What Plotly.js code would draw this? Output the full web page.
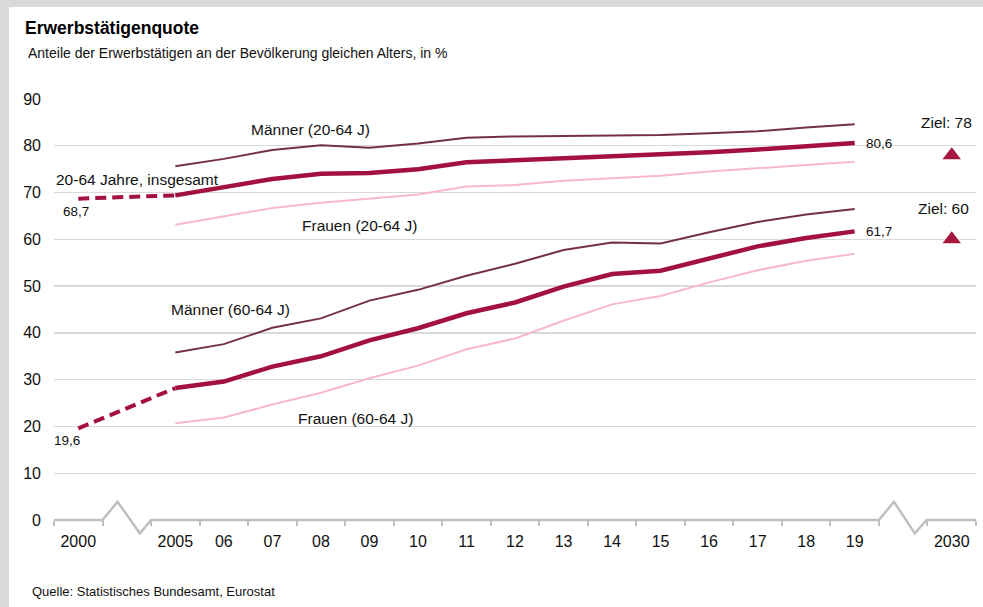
<!DOCTYPE html>
<html>
<head>
<meta charset="utf-8">
<script src="https://cdn.plot.ly/plotly-3.0.1.min.js"></script>
<style>
  html, body { margin: 0; padding: 0; background: #ffffff; overflow: hidden; }
  #wrap { width: 974px; height: 600px; border-top: 7px solid #d9d9d9; border-left: 9px solid #d9d9d9; }
  #chart { width: 974px; height: 600px; }
</style>
</head>
<body>
<div id="wrap"><div id="chart"></div></div>
<script>
// ---- Data ----
const xCategories = ['2000', '', '2005', '06', '07', '08', '09', '10', '11', '12', '13', '14', '15', '16', '17', '18', '19', '', '2030'];
const years = [2005, 2006, 2007, 2008, 2009, 2010, 2011, 2012, 2013, 2014, 2015, 2016, 2017, 2018, 2019];

const total2064_2000 = 68.7;
const total2064 = [69.4, 71.1, 72.9, 74.0, 74.2, 75.0, 76.5, 76.9, 77.3, 77.7, 78.0, 78.6, 79.2, 79.9, 80.6];
const men2064   = [75.6, 77.2, 79.1, 80.1, 79.6, 80.5, 81.7, 82.0, 82.1, 82.2, 82.3, 82.7, 83.1, 83.9, 84.6];
const women2064 = [63.1, 64.9, 66.7, 67.8, 68.7, 69.6, 71.3, 71.6, 72.5, 73.1, 73.6, 74.5, 75.2, 75.8, 76.6];

const total6064_2000 = 19.6;
const total6064 = [28.2, 29.6, 32.8, 35.0, 38.4, 41.0, 44.2, 46.5, 49.9, 52.6, 53.3, 56.0, 58.5, 60.3, 61.7];
const men6064   = [35.8, 37.6, 41.1, 43.1, 46.9, 49.2, 52.2, 54.8, 57.7, 59.3, 59.1, 61.5, 63.7, 65.3, 66.5];
const women6064 = [20.7, 21.9, 24.7, 27.2, 30.3, 33.0, 36.5, 38.8, 42.6, 46.1, 47.9, 50.8, 53.4, 55.4, 56.9];

const targetYear = 2030;
const targets = [78, 60];
const targetLabels = ['Ziel: 78', 'Ziel: 60'];
const yTicks = [0, 10, 20, 30, 40, 50, 60, 70, 80, 90];

// ---- Scale helpers (category slot index on a broken time axis) ----
function slot(year) {
  const lbl = year === 2000 || year === 2030 ? String(year) : (year === 2005 ? '2005' : String(year).slice(2));
  return xCategories.indexOf(lbl);
}
const xs = years.map(slot);
const yRange = [0, 90];
const yp = v => (v - yRange[0]) / (yRange[1] - yRange[0]);

const cTotal = '#a3123f';
const cMen = '#74304a';
const cWomen = '#f8b8cb';
const font = 'Liberation Sans, Arial, Helvetica, sans-serif';
const txt = '#111111';

const traces = [
  {x: xs, y: men2064, mode: 'lines', line: {color: cMen, width: 2}},
  {x: xs, y: women2064, mode: 'lines', line: {color: cWomen, width: 2}},
  {x: [slot(2000), slot(2005)], y: [total2064_2000, total2064[0]], mode: 'lines', line: {color: cTotal, width: 4, dash: '11px,6px'}},
  {x: xs, y: total2064, mode: 'lines', line: {color: cTotal, width: 4.5}},
  {x: xs, y: men6064, mode: 'lines', line: {color: cMen, width: 2}},
  {x: xs, y: women6064, mode: 'lines', line: {color: cWomen, width: 2}},
  {x: [slot(2000), slot(2005)], y: [total6064_2000, total6064[0]], mode: 'lines', line: {color: cTotal, width: 4, dash: '11px,6px'}},
  {x: xs, y: total6064, mode: 'lines', line: {color: cTotal, width: 4.5}},
  {x: targets.map(() => slot(targetYear)), y: targets, mode: 'markers', cliponaxis: false,
   marker: {symbol: 'triangle-up', size: 16, color: '#a8173f'}}
];

const n = xCategories.length;
const boundaries = Array.from({length: n + 1}, (_, i) => i - 0.5);

// broken axis line with two zigzags
const b1 = slot(2000) + 0.5, b1e = slot(2005) - 0.5;
const b2 = slot(2019) + 0.5, b2e = slot(2030) - 0.5;
const up = 3.9, dn = -2.85;
const axisPath =
  'M ' + (-0.5) + ',' + yp(0) +
  ' L ' + b1 + ',' + yp(0) +
  ' L ' + (b1 + 0.31) + ',' + yp(up) +
  ' L ' + (b1 + 0.77) + ',' + yp(dn) +
  ' L ' + b1e + ',' + yp(0) +
  ' L ' + b2 + ',' + yp(0) +
  ' L ' + (b2 + 0.31) + ',' + yp(up) +
  ' L ' + (b2 + 0.74) + ',' + yp(dn) +
  ' L ' + (b2e - 0.02) + ',' + yp(0) +
  ' L ' + (n - 0.5) + ',' + yp(0);

const ann = (x, y, text, opts) => Object.assign({x: x, y: y, xref: 'x', yref: 'y', text: text, showarrow: false,
  font: {family: font, size: 15.5, color: txt}, xanchor: 'center', yanchor: 'middle'}, opts || {});
const small = {family: font, size: 13.5, color: txt};

const annotations = [
  ann(4.78, 83.4, 'Männer (20-64 J)'),
  ann(-0.5, 72.7, '20-64 Jahre, insgesamt', {xanchor: 'left'}),
  ann(slot(2000) - 0.05, 66.05, String(total2064_2000).replace('.', ','), {font: small}),
  ann(5.8, 62.9, 'Frauen (20-64 J)'),
  ann(slot(2019) + 0.2, total2064[total2064.length - 1] - 0.1, String(total2064[total2064.length - 1]).replace('.', ','), {xanchor: 'left', font: small}),
  ann(slot(targetYear) - 0.1, 84.9, targetLabels[0]),
  ann(slot(targetYear) - 0.16, 66.5, targetLabels[1]),
  ann(slot(2019) + 0.2, total6064[total6064.length - 1] - 0.1, String(total6064[total6064.length - 1]).replace('.', ','), {xanchor: 'left', font: small}),
  ann(3.14, 45.1, 'Männer (60-64 J)'),
  ann(-0.6, 31.4, '60-64 Jahre, insgesamt', {xanchor: 'left'}),
  ann(slot(2000) - 0.23, 17.1, String(total6064_2000).replace('.', ','), {font: small}),
  ann(5.72, 21.6, 'Frauen (60-64 J)'),
  {xref: 'paper', yref: 'paper', x: (26 - 54) / 922, y: (520 - 53) / 421, xanchor: 'left', yanchor: 'middle', showarrow: false,
   text: 'Anteile der Erwerbstätigen an der Bevölkerung gleichen Alters, in %', font: {family: font, size: 14, color: txt}},
  {xref: 'paper', yref: 'paper', x: (30 - 54) / 922, y: (520 - 591) / 421, xanchor: 'left', yanchor: 'middle', showarrow: false,
   text: 'Quelle: Statistisches Bundesamt, Eurostat', font: {family: font, size: 13, color: txt}}
];

const layout = {
  width: 974, height: 600,
  margin: {l: 45, r: 7, t: 92, b: 87},
  paper_bgcolor: '#ffffff', plot_bgcolor: '#ffffff',
  showlegend: false,
  title: {text: '<b>Erwerbstätigenquote</b>', xref: 'container', yref: 'container', x: 16 / 974, xanchor: 'left',
          y: 1 - 21 / 600, yanchor: 'middle', font: {family: font, size: 17.5, color: '#000'}},
  xaxis: {
    range: [-0.5, n - 0.5], tickmode: 'array', tickvals: xCategories.map((_, i) => i), ticktext: xCategories,
    showgrid: false, zeroline: false, showline: false, ticks: '',
    tickfont: {family: font, size: 16, color: txt}, ticklabelstandoff: 10,
    minor: {tickmode: 'array', tickvals: boundaries, ticks: 'outside', ticklen: 5, tickwidth: 2, tickcolor: '#bfbfbf', showgrid: false},
    fixedrange: true
  },
  yaxis: {
    range: yRange, tickmode: 'array', tickvals: yTicks, ticktext: yTicks.map(String),
    showgrid: true, gridcolor: '#d9d9d9', gridwidth: 1.3,
    zeroline: true, zerolinecolor: '#ffffff', zerolinewidth: 3,
    showline: false, ticks: '', tickfont: {family: font, size: 16, color: txt}, ticklabelstandoff: 12,
    fixedrange: true
  },
  shapes: [
    {type: 'path', xref: 'x', yref: 'paper', path: axisPath, line: {color: '#bfbfbf', width: 2.5}, layer: 'above'}
  ],
  annotations: annotations
};

Plotly.newPlot('chart', traces, layout, {displayModeBar: false, staticPlot: true});
</script>
</body>
</html>
